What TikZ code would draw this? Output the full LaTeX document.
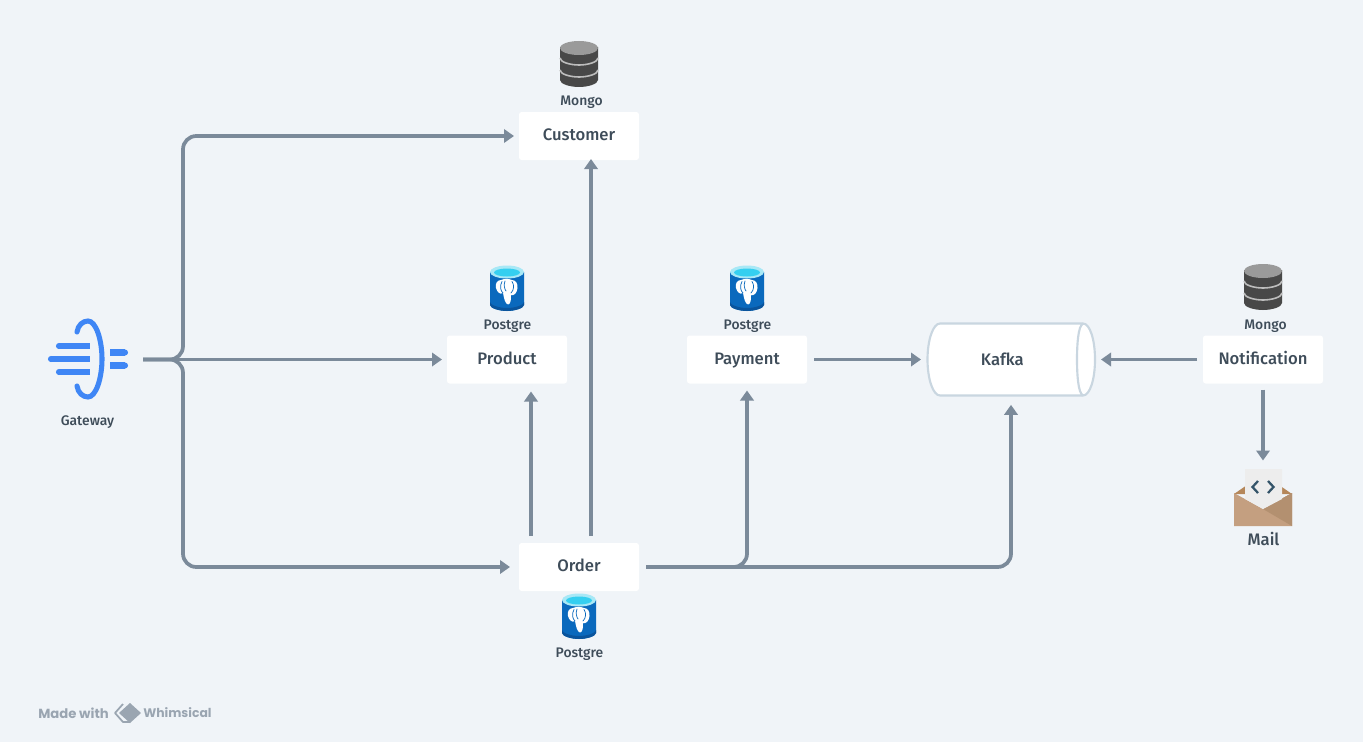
\documentclass[tikz,border=0pt]{standalone}
\usepackage{fontspec}
\setmainfont{Fira Sans}[UprightFont=* Medium]
\newfontfamily\madefont{Poppins}
\usetikzlibrary{arrows.meta,calc}
\definecolor{bgc}{HTML}{F0F4F8}
\definecolor{linec}{HTML}{7B8A9A}
\definecolor{textc}{HTML}{3E4C59}
\definecolor{gwblue}{HTML}{3F86F5}
\definecolor{pgblue}{HTML}{0A69BD}
\definecolor{pgdark}{HTML}{0A549C}
\definecolor{pgcyan}{HTML}{35CFF0}
\definecolor{pgrim}{HTML}{A8E8F6}
\definecolor{mdark}{HTML}{484848}
\definecolor{mtop}{HTML}{9A9A9A}
\definecolor{mline}{HTML}{BDBDBD}
\definecolor{kborder}{HTML}{C9D6E0}
\definecolor{brandc}{HTML}{9AA5B1}
\definecolor{envback}{HTML}{B5875A}
\definecolor{envfront}{HTML}{C49F80}
\definecolor{envshade}{HTML}{B39070}
\definecolor{paperc}{HTML}{EDEDED}
\definecolor{codec}{HTML}{345469}
\tikzset{
  box/.style={fill=white,rounded corners=2pt,minimum width=90pt,minimum height=36pt,inner sep=0pt,outer sep=3.75pt,text=textc,text height=.72em,text depth=.04em,font=\fontsize{12.5}{14}\selectfont},
  conn/.style={draw=linec,line width=2.8pt,rounded corners=10pt,-{Triangle[length=7.5pt,width=10pt]}},
  small/.style={text=textc,font=\fontsize{10.4}{12}\selectfont,inner sep=0pt},
  pics/pgicon/.style={code={
    \fill[pgblue] (-17,-16) -- (-17,17) .. controls (-17,20) and (-8,23) .. (0,23) .. controls (8,23) and (17,20) .. (17,17) -- (17,-16) -- cycle;
    \fill[pgdark] (-17,14) -- (-17,17) .. controls (-17,20) and (-8,23) .. (0,23) .. controls (8,23) and (17,20) .. (17,17) -- (17,14) .. controls (17,17) and (8,20) .. (0,20) .. controls (-8,20) and (-17,17) .. (-17,14) -- cycle;
    \fill[pgrim] (0,-16) ellipse [x radius=17,y radius=6.5];
    \fill[pgcyan] (0,-15.5) ellipse [x radius=13,y radius=4];
    \fill[white] (-6,-8) .. controls (-10,-8) and (-12,-4) .. (-11,0) .. controls (-10,4) and (-7,7) .. (-4,5) .. controls (-3,10) and (-2,16) .. (1,16.5) .. controls (4,16) and (4,11) .. (4,7) .. controls (7,8) and (10,5) .. (10.5,0) .. controls (11,-4) and (9,-8) .. (5,-8) .. controls (2,-9.5) and (-3,-9.5) .. (-6,-8) -- cycle;
    \draw[pgblue,line width=.55pt,line cap=round] (-5,-6.5) .. controls (-7.5,-2) and (-6.5,3) .. (-4,5);
    \draw[pgblue,line width=.55pt,line cap=round] (5,-6.5) .. controls (7.5,-3) and (7,2) .. (4,5);
    \draw[pgblue,line width=.55pt,line cap=round] (-2,-7) .. controls (-3.5,-3) and (-2.5,1) .. (-1,3);
  }},
  pics/mongoicon/.style={code={
    \fill[mdark] (-19,-17) -- (-19,16) .. controls (-19,20) and (-9,23) .. (0,23) .. controls (9,23) and (19,20) .. (19,16) -- (19,-17) -- cycle;
    \fill[mtop] (0,-16) ellipse [x radius=19,y radius=7];
    \draw[mline,line width=1.2pt] (-19,-6) .. controls (-19,-2) and (-9,1) .. (0,1) .. controls (9,1) and (19,-2) .. (19,-6);
    \draw[mline,line width=1.2pt] (-19,6) .. controls (-19,10) and (-9,13) .. (0,13) .. controls (9,13) and (19,10) .. (19,6);
  }}
}
\begin{document}
\begin{tikzpicture}[x=.75pt,y=-.75pt]
\useasboundingbox (0,0) rectangle (1363,742);
\fill[bgc] (0,0) rectangle (1363,742);

% gateway icon
\begin{scope}[gwblue]
  \draw[line width=3.8pt,line cap=round] (77,332) .. controls (78,325) and (83,321) .. (88,321) .. controls (96,321) and (102,340) .. (102,359) .. controls (102,378) and (96,397) .. (88,397) .. controls (83,397) and (78,393) .. (77,386);
  \draw[line width=4.6pt,line cap=butt] (59,346) -- (90,346) (51,359) -- (90,359) (59,372) -- (90,372) (110,352.5) -- (125,352.5) (110,365.5) -- (125,365.5);
  \fill (59,346) circle [radius=3.06] (51,359) circle [radius=3.06] (59,372) circle [radius=3.06] (125,352.5) circle [radius=3.06] (125,365.5) circle [radius=3.06];
\end{scope}
\node[small] (gwlabel) at (87.5,422) {Gateway};
\coordinate (gwout) at (143,359.5);
\coordinate (gwbus) at (183,359.5);

% boxes
\node[box] (customer) at (579,136) {Customer};
\node[box] (product) at (507,359.5) {Product};
\node[box,outer sep=5.25pt] (payment) at (747,359.5) {Payment};
\node[box,outer sep=4.5pt] (notification) at (1263,359.5) {Notification};
\node[box,outer sep=5.25pt] (order) at (579,567) {Order};

% kafka
\draw[kborder,fill=white,line width=1.6pt] (940,323.5) -- (1083,323.5) .. controls (1090,323.5) and (1095,340) .. (1095,359.5) .. controls (1095,379) and (1090,395.5) .. (1083,395.5) -- (940,395.5) .. controls (933,395.5) and (927.5,379) .. (927.5,359.5) .. controls (927.5,340) and (933,323.5) .. (940,323.5) -- cycle;
\draw[kborder,line width=1.6pt] (1083,323.5) .. controls (1078,326) and (1077,345) .. (1077,359.5) .. controls (1077,374) and (1078,393) .. (1083,395.5);
\node[minimum width=126pt,minimum height=54.5pt,inner sep=0pt,outer sep=4.5pt,text=textc,font=\fontsize{12.5}{14}\selectfont] (kafka) at (1011,359.5) {\hspace*{-13pt}Kafka};

% icons and their labels
\pic at (579,64) {mongoicon};
\node[small] (l1) at (581.5,102.5) {Mongo};
\pic at (507,288) {pgicon};
\node[small] (l2) at (507.5,326) {Postgre};
\pic at (747,288) {pgicon};
\node[small] (l3) at (747.5,326) {Postgre};
\pic at (1263,287) {mongoicon};
\node[small] (l4) at (1265.5,326) {Mongo};
\pic at (579,616) {pgicon};
\node[small] (l5) at (579.5,654) {Postgre};

% mail icon
\fill[envback] (1234,494) -- (1263,474) -- (1292,494) -- cycle;
\fill[envfront] (1234,493) -- (1263,509) -- (1292,493) -- (1292,526) -- (1234,526) -- cycle;
\fill[envshade] (1263,509) -- (1292,493) -- (1292,526) -- cycle;
\fill[paperc] (1245,469) -- (1282,469) -- (1282,499) -- (1263,509) -- (1245,499) -- cycle;
\draw[codec,line width=1.7pt] (1258,481) -- (1252.5,487) -- (1258,493) (1268,481) -- (1273.5,487) -- (1268,493);
\node[inner sep=0pt,text=textc,font=\fontsize{12.5}{14}\selectfont] (mail) at (1263.5,539) {Mail};
\coordinate (mailtop) at (1263,460.5);

% connectors
\draw[conn] (gwout) -- (gwbus) -- (gwbus |- customer.west) -- (customer.west);
\draw[conn] (gwout) -- (product.west);
\draw[conn,shorten >=1.5pt] (gwout) -- (gwbus) -- (gwbus |- order.west) -- (order.west);
\draw[conn] ($(order.north)+(-48,0)$) -- ($(product.south)+(24,3)$);
\draw[conn] ($(order.north)+(12,0)$) -- ($(customer.south)+(12,-6)$);
\draw[conn] (order.east) -- (order.east -| payment.south) -- (payment.south);
\draw[conn] (order.east) -- (order.east -| kafka.south) -- ($(kafka.south)+(0,3)$);
\draw[conn] (payment.east) -- (kafka.west);
\draw[conn] (notification.west) -- (kafka.east);
\draw[conn] (notification.south) -- (mailtop);

% brand
\node[text=brandc,font=\fontsize{9.9}{12}\selectfont\bfseries,anchor=west,inner sep=0pt] (made) at (38,713) {\madefont Made with};
\node[text=brandc,font=\fontsize{9.3}{12}\selectfont\bfseries,anchor=west,inner sep=0pt] (whim) at (143,713) {\madefont Whimsical};
\draw[brandc,line width=1.3pt,line join=round] (123,704) -- (115,713) -- (123,722) -- (130,722);
\fill[brandc] (130,703) -- (141,713) -- (130,723) -- (119,713) -- cycle;
\end{tikzpicture}
\end{document}
